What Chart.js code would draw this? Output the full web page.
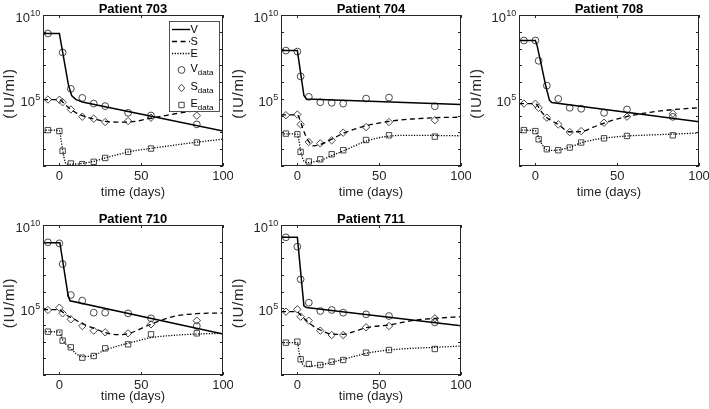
<!DOCTYPE html>
<html>
<head>
<meta charset="utf-8">
<script src="https://cdn.jsdelivr.net/npm/chart.js@4.4.1/dist/chart.umd.min.js"></script>
<style>
  html, body { margin: 0; padding: 0; background: #fff; }
  body { position: relative; width: 709px; height: 409px; overflow: hidden; }
  canvas { position: absolute; }
</style>
</head>
<body>
<canvas id="p703" width="233" height="205" style="left:0;top:0"></canvas>
<canvas id="p704" width="243" height="205" style="left:228px;top:0"></canvas>
<canvas id="p708" width="243" height="205" style="left:466px;top:0"></canvas>
<canvas id="p710" width="233" height="204" style="left:0;top:205px"></canvas>
<canvas id="p711" width="243" height="204" style="left:228px;top:205px"></canvas>
<script>
// sampling days of the measurements, and days at which the model curves were read
const sampleDays = [-7, 0, 2, 7, 14, 21, 28, 42, 56, 84];
const fitDays = [-10, 0, 1, 2, 4, 7, 10, 14, 21, 28, 35, 42, 56, 70, 84, 100];
const xTickValues = [0, 50, 100];
const yTickExponents = [1, 2, 3, 4, 5, 6, 7, 8, 9, 10];
const yLabelExponents = [5, 10];

// all values are log10(IU/ml)
const vData703 = [8.9, null, 7.77, 5.6, 5.06, 4.72, 4.57, 4.17, 4.01, 3.48];
const sData703 = [4.96, 4.95, 4.8, 4.37, 3.94, 3.82, 3.62, 3.68, 3.88, 4.0];
const eData703 = [3.14, 3.08, 1.9, 1.15, 1.11, 1.25, 1.48, 1.84, 2.04, 2.4];
const vFitDays703 = [-10, 0, 5.5, 7.5, 10, 14, 100];
const vFit703 = [8.9, 8.9, 5.85, 5.2, 4.97, 4.82, 3.08];
const sFit703 = [4.96, 4.96, 4.9, 4.82, 4.62, 4.38, 4.18, 4.0, 3.8, 3.66, 3.62, 3.62, 3.85, 4.1, 4.3, 4.5];
const eFit703 = [3.14, 3.12, 2.6, 1.95, 1.15, 1.1, 1.12, 1.15, 1.28, 1.48, 1.66, 1.84, 2.05, 2.24, 2.42, 2.6];

const vData704 = [7.88, 7.82, 6.34, 5.12, 4.8, 4.77, 4.72, 5.02, 5.08, 4.56];
const sData704 = [4.03, 4.07, 3.48, 2.43, 2.35, 2.53, 2.99, 3.32, 3.62, 3.73];
const eData704 = [2.93, 2.89, 1.84, 1.27, 1.4, 1.7, 1.94, 2.55, 2.83, 2.75];
const vFitDays704 = [-10, 0, 1, 4, 5.5, 100];
const vFit704 = [7.88, 7.88, 7.2, 5.2, 5.0, 4.67];
const sFit704 = [4.05, 4.05, 3.9, 3.62, 3.05, 2.45, 2.2, 2.28, 2.6, 2.95, 3.2, 3.4, 3.66, 3.8, 3.88, 3.91];
const eFit704 = [2.92, 2.9, 2.5, 1.9, 1.3, 1.2, 1.25, 1.33, 1.62, 1.9, 2.2, 2.48, 2.78, 2.83, 2.82, 2.8];

const vData708 = [8.48, 8.48, 7.27, 5.79, 5.0, 4.47, 4.41, 4.17, 4.37, 3.93];
const sData708 = [4.72, 4.71, 4.47, 3.88, 3.48, 3.02, 3.08, 3.58, 3.94, 4.12];
const eData708 = [3.14, 3.08, 2.59, 2.0, 1.94, 2.1, 2.4, 2.65, 2.79, 2.83];
const vFitDays708 = [-10, 0, 1, 3.7, 6.4, 8.6, 10, 100];
const vFit708 = [8.48, 8.48, 8.2, 7.0, 5.75, 4.92, 4.78, 3.64];
const sFit708 = [4.72, 4.72, 4.65, 4.5, 4.2, 3.88, 3.7, 3.47, 3.04, 3.05, 3.3, 3.56, 3.95, 4.2, 4.36, 4.47];
const eFit708 = [3.14, 3.1, 2.95, 2.7, 2.3, 1.96, 1.93, 1.95, 2.12, 2.38, 2.55, 2.66, 2.79, 2.85, 2.9, 2.97];

const vData710 = [8.96, 8.9, 7.66, 5.8, 5.46, 4.74, 4.74, 4.7, 4.4, 3.94];
const sData710 = [4.9, 5.04, 4.7, 4.34, 3.94, 3.66, 3.56, 3.5, 4.04, 4.26];
const eData710 = [3.6, 3.54, 3.06, 2.66, 2.04, 2.14, 2.6, 2.84, 3.44, 3.5];
const vFitDays710 = [-10, 0.3, 5.3, 6.5, 100];
const vFit710 = [8.94, 8.94, 5.8, 5.45, 3.46];
const sFit710 = [4.92, 4.92, 4.85, 4.78, 4.62, 4.45, 4.3, 4.08, 3.8, 3.55, 3.42, 3.48, 4.05, 4.52, 4.68, 4.72];
const eFit710 = [3.6, 3.58, 3.4, 3.12, 2.85, 2.6, 2.3, 2.1, 2.18, 2.5, 2.72, 2.9, 3.24, 3.38, 3.46, 3.5];

const vData711 = [9.26, 8.7, 6.74, 5.34, 4.84, 4.9, 4.74, 4.64, 4.54, 4.16];
const sData711 = [4.8, 4.94, 4.5, 4.26, 3.66, 3.4, 3.4, 3.86, 3.94, 4.4];
const eData711 = [2.94, 3.0, 1.94, 1.66, 1.6, 1.8, 1.9, 2.34, 2.5, 2.56];
const vFitDays711 = [-10, 0, 4, 5.5, 100];
const vFit711 = [9.26, 9.26, 5.15, 5.05, 3.96];
const sFit711 = [4.8, 4.8, 4.7, 4.6, 4.4, 4.14, 3.92, 3.7, 3.45, 3.44, 3.62, 3.84, 4.0, 4.26, 4.4, 4.5];
const eFit711 = [2.94, 2.94, 2.4, 1.95, 1.55, 1.52, 1.55, 1.6, 1.76, 1.94, 2.12, 2.3, 2.5, 2.6, 2.66, 2.74];

const FONT = '"Liberation Sans", Arial, Helvetica, sans-serif';
const INK = '#262626';

const toPoints = (days, logs) => days.map((d, i) => ({ x: d, y: logs[i] == null ? null : Math.pow(10, logs[i]) }));

function legendMarker(ctx, kind, x, y) {
  ctx.beginPath();
  if (kind === 'circle') ctx.arc(x, y, 3.4, 0, Math.PI * 2);
  if (kind === 'diamond') { ctx.moveTo(x, y - 3.8); ctx.lineTo(x + 3.2, y); ctx.lineTo(x, y + 3.8); ctx.lineTo(x - 3.2, y); ctx.closePath(); }
  if (kind === 'square') ctx.rect(x - 2.7, y - 2.7, 5.4, 5.4);
  ctx.stroke();
}

function drawLegend(ctx, a) {
  const L = a.right - 54, R = a.right - 3, T = a.top + 6, B = a.top + 97;
  ctx.fillStyle = '#fff';
  ctx.fillRect(L, T, R - L, B - T);
  ctx.strokeStyle = INK; ctx.lineWidth = 0.8;
  ctx.strokeRect(L + 0.5, T + 0.5, R - L - 1, B - T - 1);
  const lines = [['V', [], 1.4, 14.5], ['S', [5, 3.5], 1.3, 26.5], ['E', [1.2, 1.5], 1.3, 38.5]];
  ctx.fillStyle = '#000';
  ctx.textBaseline = 'middle'; ctx.textAlign = 'left';
  lines.forEach(([lab, dash, w, dy]) => {
    ctx.save();
    ctx.strokeStyle = '#000'; ctx.lineWidth = w; ctx.setLineDash(dash);
    ctx.beginPath(); ctx.moveTo(a.right - 51, a.top + dy); ctx.lineTo(a.right - 33, a.top + dy); ctx.stroke();
    ctx.restore();
    ctx.font = '11px ' + FONT;
    ctx.fillText(lab, a.right - 32.5, a.top + dy);
  });
  const marks = [['V', 'circle', 55], ['S', 'diamond', 73], ['E', 'square', 90]];
  marks.forEach(([lab, kind, dy]) => {
    ctx.strokeStyle = '#333'; ctx.lineWidth = 0.9;
    legendMarker(ctx, kind, a.right - 41.5, a.top + dy);
    ctx.font = '11px ' + FONT;
    ctx.fillText(lab, a.right - 32.5, a.top + dy - 1.5);
    const w = ctx.measureText(lab).width;
    ctx.font = '8px ' + FONT;
    ctx.fillText('data', a.right - 32.5 + w, a.top + dy + 3);
  });
}

const matlabAxes = {
  id: 'matlabAxes',
  afterDatasetsDraw(chart, args, o) {
    if (o.legend) {
      chart.ctx.save();
      drawLegend(chart.ctx, chart.chartArea);
      chart.ctx.restore();
    }
  },
  afterDraw(chart, args, o) {
    const { ctx, chartArea: a } = chart;
    const x = chart.scales.x, y = chart.scales.y;
    ctx.save();
    ctx.strokeStyle = INK; ctx.lineWidth = 1;
    ctx.strokeRect(a.left + 0.5, a.top + 0.5, a.right - a.left - 1, a.bottom - a.top - 1);
    ctx.beginPath();
    xTickValues.forEach(v => {
      const px = Math.round(x.getPixelForValue(v)) + 0.5;
      ctx.moveTo(px, a.bottom); ctx.lineTo(px, a.bottom - 3);
      ctx.moveTo(px, a.top); ctx.lineTo(px, a.top + 3);
    });
    yTickExponents.forEach(e => {
      const py = Math.round(y.getPixelForValue(Math.pow(10, e))) + 0.5;
      ctx.moveTo(a.left, py); ctx.lineTo(a.left + 3, py);
      ctx.moveTo(a.right, py); ctx.lineTo(a.right - 3, py);
    });
    ctx.stroke();

    ctx.fillStyle = INK;
    ctx.textBaseline = 'alphabetic';
    ctx.font = '13px ' + FONT; ctx.textAlign = 'center';
    xTickValues.forEach(v => ctx.fillText(String(v), x.getPixelForValue(v), a.bottom + 14));
    yLabelExponents.forEach(e => {
      const py = y.getPixelForValue(Math.pow(10, e));
      ctx.font = '13px ' + FONT; const wb = ctx.measureText('10').width;
      ctx.font = '9px ' + FONT; const we = ctx.measureText(String(e)).width;
      const x0 = a.left - 3 - wb - we;
      ctx.textAlign = 'left';
      ctx.font = '13px ' + FONT; ctx.fillText('10', x0, py + 7);
      ctx.font = '9px ' + FONT; ctx.fillText(String(e), x0 + wb + 0.3, py + 1);
    });
    ctx.font = '13px ' + FONT; ctx.textAlign = 'center';
    ctx.fillText('time (days)', (a.left + a.right) / 2, a.bottom + o.xTitleGap);
    ctx.save();
    ctx.translate(a.left + o.yTitleOffset, (a.top + a.bottom) / 2 + 3);
    ctx.rotate(-Math.PI / 2);
    ctx.textBaseline = 'middle';
    ctx.font = '15px ' + FONT;
    ctx.letterSpacing = '0.8px';
    ctx.fillText('(IU/ml)', 0, 0);
    ctx.restore();
    ctx.fillStyle = '#000';
    ctx.font = 'bold 13px ' + FONT;
    ctx.fillText('Patient ' + o.name, (a.left + a.right) / 2, a.top - 2);
    ctx.restore();
  }
};

function makePanel(id, name, vFitDays, vFit, sFit, eFit, vData, sData, eData, pad, extra) {
  const markerBase = { showLine: false, borderColor: '#333', backgroundColor: 'transparent', pointBorderWidth: 0.9, pointHoverRadius: 0 };
  new Chart(document.getElementById(id), {
    type: 'line',
    data: {
      datasets: [
        { label: 'V', data: toPoints(vFitDays, vFit), borderColor: '#000', borderWidth: 1.5, pointRadius: 0, tension: 0 },
        { label: 'S', data: toPoints(fitDays, sFit), borderColor: '#000', borderWidth: 1.3, borderDash: [5, 3.5], pointRadius: 0, cubicInterpolationMode: 'monotone' },
        { label: 'E', data: toPoints(fitDays, eFit), borderColor: '#000', borderWidth: 1.3, borderDash: [1.2, 1.5], pointRadius: 0, cubicInterpolationMode: 'monotone' },
        Object.assign({ label: 'V data', data: toPoints(sampleDays, vData), pointStyle: 'circle', pointRadius: 3.4 }, markerBase),
        Object.assign({ label: 'S data', data: toPoints(sampleDays, sData), pointStyle: 'rectRot', pointRadius: 3.7 }, markerBase),
        Object.assign({ label: 'E data', data: toPoints(sampleDays, eData), pointStyle: 'rect', pointRadius: 3.8 }, markerBase)
      ]
    },
    options: {
      responsive: false,
      animation: false,
      events: [],
      layout: { padding: pad },
      scales: {
        x: { type: 'linear', min: -10, max: 100, display: false },
        y: { type: 'logarithmic', min: 10, max: 1e10, display: false }
      },
      plugins: {
        legend: { display: false },
        tooltip: { enabled: false },
        matlabAxes: Object.assign({ name: name }, extra)
      }
    },
    plugins: [matlabAxes]
  });
}

makePanel('p703', '703', vFitDays703, vFit703, sFit703, eFit703, vData703, sData703, eData703,
  { left: 43, right: 10, top: 15, bottom: 39 }, { legend: true, xTitleGap: 30, yTitleOffset: -33 });
makePanel('p704', '704', vFitDays704, vFit704, sFit704, eFit704, vData704, sData704, eData704,
  { left: 53, right: 10, top: 15, bottom: 39 }, { xTitleGap: 30, yTitleOffset: -42 });
makePanel('p708', '708', vFitDays708, vFit708, sFit708, eFit708, vData708, sData708, eData708,
  { left: 53, right: 10, top: 15, bottom: 39 }, { xTitleGap: 30, yTitleOffset: -42 });
makePanel('p710', '710', vFitDays710, vFit710, sFit710, eFit710, vData710, sData710, eData710,
  { left: 43, right: 10, top: 20, bottom: 34 }, { xTitleGap: 25, yTitleOffset: -33 });
makePanel('p711', '711', vFitDays711, vFit711, sFit711, eFit711, vData711, sData711, eData711,
  { left: 53, right: 10, top: 20, bottom: 34 }, { xTitleGap: 25, yTitleOffset: -42 });
</script>
</body>
</html>
